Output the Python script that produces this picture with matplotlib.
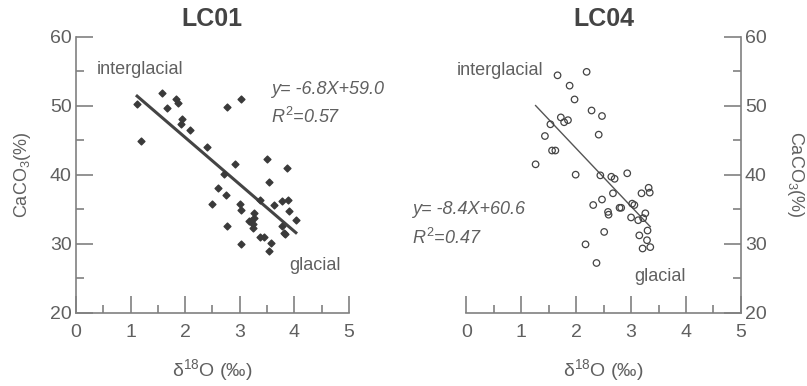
import numpy as np
import matplotlib
matplotlib.use('Agg')
import matplotlib.pyplot as plt

plt.rcParams['font.family'] = ['Liberation Sans', 'DejaVu Sans']
plt.rcParams['mathtext.fontset'] = 'custom'
plt.rcParams['mathtext.rm'] = 'Liberation Sans'
plt.rcParams['mathtext.it'] = 'Liberation Sans:italic'

# LC01 (filled diamonds)
lc01_d18o = [1.12, 1.19, 1.58, 1.67, 1.84, 1.87, 1.95, 1.92, 2.09, 2.41, 2.50, 2.61,
             2.72, 2.75, 2.77, 2.77, 2.92, 3.02, 3.00, 3.03, 3.03, 3.17, 3.20, 3.26,
             3.27, 3.25, 3.25, 3.38, 3.38, 3.44, 3.50, 3.54, 3.57, 3.53, 3.63, 3.77,
             3.89, 3.87, 3.78, 3.82, 3.83, 3.91, 4.03]
lc01_caco3 = [50.3, 44.9, 51.8, 49.7, 51.0, 50.4, 48.1, 47.4, 46.5, 44.0, 35.7, 38.0,
              40.1, 37.0, 32.5, 49.8, 41.5, 51.0, 35.7, 34.9, 30.0, 33.3, 33.3, 34.5,
              33.7, 32.8, 32.2, 36.4, 31.0, 31.0, 42.2, 39.0, 30.1, 29.0, 35.6, 36.2,
              36.3, 40.9, 32.6, 31.6, 31.4, 34.8, 33.5]

# LC04 (open circles)
lc04_d18o = [1.66, 2.19, 1.88, 1.97, 2.28, 2.47, 1.72, 1.78, 1.85, 1.53, 2.41, 1.43,
             1.56, 1.62, 1.26, 1.99, 2.44, 2.64, 2.70, 2.93, 2.67, 2.31, 2.47, 2.58,
             2.59, 2.79, 2.82, 3.02, 3.06, 3.00, 3.13, 3.19, 3.32, 3.34, 3.26, 3.22,
             2.51, 3.15, 3.30, 3.29, 3.21, 3.35, 2.17, 2.37]
lc04_caco3 = [54.4, 54.9, 52.9, 50.9, 49.3, 48.5, 48.3, 47.6, 47.9, 47.3, 45.8, 45.6,
              43.5, 43.5, 41.5, 40.0, 39.9, 39.7, 39.4, 40.2, 37.3, 35.6, 36.4, 34.6,
              34.2, 35.2, 35.2, 35.8, 35.6, 33.8, 33.4, 37.3, 38.1, 37.4, 34.4, 33.7,
              31.7, 31.2, 31.9, 30.5, 29.3, 29.5, 29.9, 27.2]

# regression: slope, intercept, r2
lc01_fit = [-6.8, 59.0, 0.57]
lc04_fit = [-8.4, 60.6, 0.47]

grey = '#606060'
spine_c = '#808080'

fig = plt.figure(figsize=(8.07, 3.86), dpi=100)
ax1 = fig.add_axes([0.0942, 0.190, 0.338, 0.715])
ax2 = fig.add_axes([0.578, 0.190, 0.340, 0.715])


def style_axes(ax, side):
    ax.set_xlim(0, 5)
    ax.set_ylim(20, 60)
    ax.set_xticks(range(0, 6))
    ax.set_xticks(np.arange(0.5, 5, 1), minor=True)
    ax.set_yticks(range(20, 61, 10))
    ax.set_yticks(range(25, 60, 10), minor=True)
    ax.spines['top'].set_visible(False)
    other = 'right' if side == 'left' else 'left'
    ax.spines[other].set_visible(False)
    for s in ('bottom', side):
        ax.spines[s].set_color(spine_c)
        ax.spines[s].set_linewidth(1.2)
    ax.tick_params(which='both', direction='in', color=spine_c, width=1.2,
                   labelcolor=grey, labelsize=14)
    ax.tick_params(which='major', length=12)
    ax.tick_params(which='minor', length=6)
    ax.tick_params(axis='x', pad=8)
    if side == 'right':
        ax.yaxis.tick_right()
        ax.yaxis.set_label_position('right')
    ax.tick_params(axis='y', pad=3)
    ax.set_xlabel('δ$^{18}$O (‰)', fontsize=14, color=grey, labelpad=12)
    rot = 90 if side == 'left' else -90
    ax.set_ylabel('CaCO$_3$(%)', fontsize=13, color=grey, rotation=rot,
                  labelpad=12 if side == 'left' else 28)


# LC01
style_axes(ax1, 'left')
ax1.scatter(lc01_d18o, lc01_caco3, marker='D', s=12, color='#3a3a3a', zorder=3)
xs = np.array([min(lc01_d18o), max(lc01_d18o)])
ax1.plot(xs, lc01_fit[0] * xs + lc01_fit[1], color='#444444', lw=2.2)
ax1.set_title('LC01', fontsize=18, fontweight='bold', color='#444444', pad=8)
ax1.text(0.38, 55.3, 'interglacial', fontsize=13, color=grey, va='center')
ax1.text(3.9, 26.8, 'glacial', fontsize=13, color=grey, va='center')
ax1.text(3.58, 52.4, 'y= %.1fX+%.1f' % (lc01_fit[0], lc01_fit[1]),
         fontsize=13, color=grey, style='italic', va='center')
ax1.text(3.58, 48.3, '$R^2$=%.2f' % lc01_fit[2],
         fontsize=13, color=grey, style='italic', va='center')

# LC04
style_axes(ax2, 'right')
ax2.scatter(lc04_d18o, lc04_caco3, marker='o', s=22, facecolors='none',
            edgecolors='#444444', linewidths=0.9, zorder=3)
xs = np.array([min(lc04_d18o), max(lc04_d18o)])
ax2.plot(xs, lc04_fit[0] * xs + lc04_fit[1], color='#555555', lw=1.0)
ax2.set_title('LC04', fontsize=18, fontweight='bold', color='#444444', pad=8)
ax2.text(-0.18, 55.1, 'interglacial', fontsize=13, color=grey, va='center')
ax2.text(3.05, 25.3, 'glacial', fontsize=13, color=grey, va='center')
ax2.text(-1.0, 35.0, 'y= %.1fX+%.1f' % (lc04_fit[0], lc04_fit[1]),
         fontsize=13, color=grey, style='italic', va='center', clip_on=False)
ax2.text(-1.0, 30.9, '$R^2$=%.2f' % lc04_fit[2],
         fontsize=13, color=grey, style='italic', va='center', clip_on=False)

fig.savefig('out.png', dpi=100)
